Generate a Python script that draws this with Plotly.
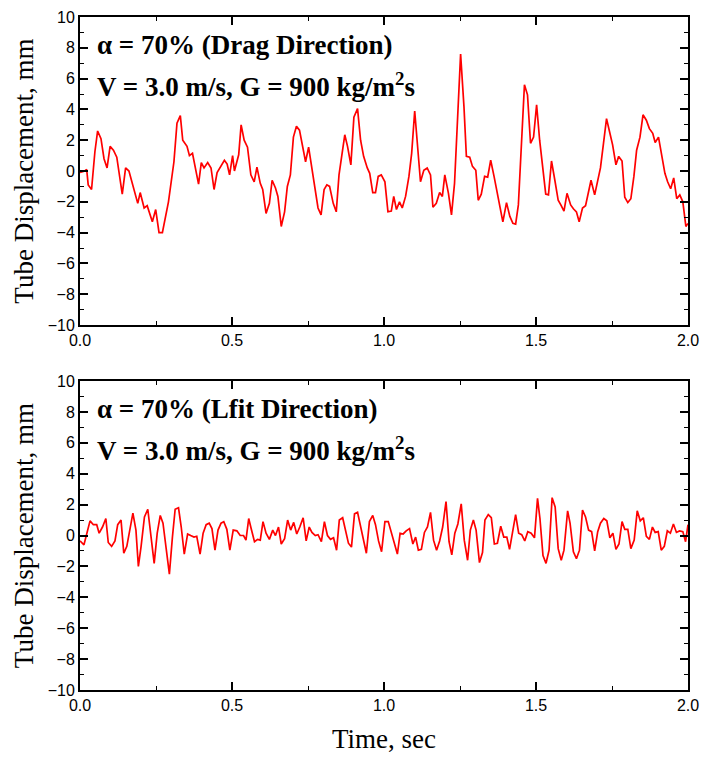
import plotly.graph_objects as go

# Drag direction (top panel), time in sec, displacement in mm
drag_time = [
    0.000, 0.016, 0.022, 0.027, 0.038, 0.049, 0.058, 0.069, 0.079, 0.089,
    0.099, 0.110, 0.121, 0.139, 0.150, 0.161, 0.190, 0.198, 0.211, 0.221,
    0.238, 0.249, 0.260, 0.271, 0.291, 0.309, 0.319, 0.330, 0.338, 0.352,
    0.360, 0.370, 0.390, 0.399, 0.408, 0.420, 0.431, 0.441, 0.451, 0.464,
    0.475, 0.484, 0.492, 0.502, 0.508, 0.522, 0.530, 0.540, 0.551, 0.562,
    0.573, 0.582, 0.593, 0.601, 0.612, 0.623, 0.632, 0.643, 0.651, 0.662,
    0.673, 0.682, 0.692, 0.702, 0.712, 0.722, 0.732, 0.742, 0.752, 0.763,
    0.774, 0.783, 0.793, 0.803, 0.812, 0.821, 0.833, 0.843, 0.852, 0.862,
    0.871, 0.880, 0.891, 0.901, 0.913, 0.923, 0.933, 0.945, 0.953, 0.963,
    0.972, 0.981, 0.991, 1.003, 1.013, 1.024, 1.032, 1.041, 1.051, 1.060,
    1.071, 1.082, 1.091, 1.101, 1.111, 1.120, 1.131, 1.142, 1.153, 1.161,
    1.172, 1.183, 1.192, 1.200, 1.212, 1.222, 1.232, 1.242, 1.252, 1.263,
    1.271, 1.282, 1.291, 1.302, 1.310, 1.320, 1.331, 1.341, 1.351, 1.362,
    1.373, 1.382, 1.391, 1.403, 1.414, 1.424, 1.433, 1.442, 1.452, 1.462,
    1.472, 1.482, 1.492, 1.502, 1.512, 1.523, 1.532, 1.541, 1.551, 1.562,
    1.573, 1.583, 1.592, 1.602, 1.614, 1.623, 1.633, 1.642, 1.653, 1.663,
    1.673, 1.681, 1.693, 1.703, 1.712, 1.722, 1.732, 1.742, 1.752, 1.763,
    1.772, 1.783, 1.792, 1.802, 1.812, 1.822, 1.831, 1.842, 1.852, 1.863,
    1.873, 1.884, 1.892, 1.903, 1.913, 1.924, 1.933, 1.943, 1.953, 1.963,
    1.973, 1.983, 1.993, 2.000,
]
drag_disp = [
    -0.1, 0.0, 0.1, -0.9, -1.2, 1.25, 2.6, 2.1, 0.8, 0.2,
    1.6, 1.35, 0.9, -1.5, 0.2, 0.0, -2.1, -1.4, -2.4, -2.25,
    -3.3, -2.5, -4.0, -4.0, -2.0, 0.6, 3.1, 3.6, 2.0, 1.6,
    1.0, 1.15, -0.85, 0.55, 0.2, 0.55, 0.2, -1.2, -0.1, 0.3,
    0.7, 0.45, -0.25, 1.0, 0.0, 1.05, 3.0, 2.0, 1.55, -0.25,
    -0.7, 0.25, -0.8, -1.2, -2.75, -2.1, -0.6, -1.1, -1.65, -3.6,
    -2.65, -1.0, -0.25, 2.2, 2.9, 2.65, 1.5, 0.6, 1.55, 0.2,
    -1.45, -2.4, -2.85, -1.2, -0.9, -1.0, -2.1, -2.65, -0.25, 1.15,
    2.35, 1.6, 0.4, 3.5, 4.05, 2.0, 0.95, 0.2, -0.15, -1.4,
    -1.4, -0.35, -0.25, -0.7, -2.65, -2.6, -1.65, -2.5, -2.0, -2.4,
    -1.65, -0.35, 1.15, 3.9, 1.15, -0.7, 0.05, 0.2, -0.25, -2.35,
    -2.1, -1.4, -1.65, -0.25, -1.45, -2.85, -0.8, 3.5, 7.6, 4.2,
    0.95, 0.9, 0.3, 0.05, -1.9, -1.5, -0.35, -0.4, 0.7, -0.35,
    -1.55, -2.4, -3.3, -2.05, -2.95, -3.4, -3.45, -2.2, 1.5, 5.6,
    4.95, 1.8, 2.2, 4.3, 2.0, -0.15, -1.5, -1.55, 0.65, -0.6,
    -1.9, -2.25, -2.6, -1.45, -2.2, -2.45, -2.65, -3.3, -2.4, -2.25,
    -1.2, -0.6, -1.55, -0.7, 0.2, 1.8, 3.4, 2.55, 1.7, 0.4,
    0.95, 0.65, -1.7, -2.05, -1.8, -0.35, 1.35, 2.2, 3.65, 3.3,
    2.75, 2.45, 1.85, 2.2, 0.95, -0.15, -0.7, -1.15, -0.45, -1.8,
    -1.55, -2.0, -3.6, -3.4,
]

# Lift direction (bottom panel)
lift_time = [
    0.000, 0.013, 0.033, 0.044, 0.055, 0.063, 0.074, 0.085, 0.093, 0.104,
    0.115, 0.124, 0.135, 0.144, 0.154, 0.174, 0.184, 0.192, 0.201, 0.212,
    0.223, 0.234, 0.244, 0.254, 0.264, 0.273, 0.283, 0.294, 0.304, 0.313,
    0.324, 0.333, 0.343, 0.354, 0.364, 0.375, 0.384, 0.395, 0.405, 0.415,
    0.425, 0.434, 0.444, 0.454, 0.464, 0.473, 0.483, 0.493, 0.504, 0.516,
    0.527, 0.538, 0.546, 0.555, 0.563, 0.574, 0.584, 0.593, 0.602, 0.612,
    0.623, 0.634, 0.643, 0.653, 0.662, 0.673, 0.683, 0.693, 0.703, 0.713,
    0.723, 0.734, 0.744, 0.754, 0.763, 0.774, 0.783, 0.794, 0.804, 0.814,
    0.824, 0.834, 0.844, 0.853, 0.864, 0.873, 0.883, 0.893, 0.903, 0.913,
    0.923, 0.932, 0.942, 0.952, 0.963, 0.972, 0.982, 0.992, 1.003, 1.014,
    1.024, 1.032, 1.044, 1.053, 1.063, 1.073, 1.084, 1.095, 1.104, 1.113,
    1.123, 1.133, 1.143, 1.153, 1.163, 1.173, 1.183, 1.193, 1.204, 1.214,
    1.223, 1.233, 1.243, 1.254, 1.264, 1.275, 1.284, 1.294, 1.303, 1.314,
    1.324, 1.332, 1.343, 1.353, 1.363, 1.373, 1.384, 1.394, 1.404, 1.413,
    1.423, 1.433, 1.443, 1.453, 1.463, 1.473, 1.484, 1.495, 1.505, 1.513,
    1.523, 1.533, 1.543, 1.553, 1.563, 1.573, 1.583, 1.592, 1.604, 1.612,
    1.623, 1.633, 1.643, 1.653, 1.663, 1.673, 1.683, 1.693, 1.703, 1.712,
    1.723, 1.733, 1.743, 1.753, 1.763, 1.773, 1.783, 1.792, 1.802, 1.812,
    1.823, 1.833, 1.843, 1.853, 1.863, 1.873, 1.883, 1.892, 1.902, 1.912,
    1.922, 1.932, 1.942, 1.952, 1.962, 1.972, 1.983, 1.992, 2.000,
]
lift_disp = [
    -0.35, -0.6, 0.95, 0.7, 0.7, 0.15, 0.55, 1.1, -0.45, -0.7,
    -0.35, 0.7, 1.0, -1.15, -0.7, 1.45, 0.35, -2.0, -0.7, 1.2,
    1.7, -0.2, -1.8, 0.15, 1.3, 0.8, -0.85, -2.5, -0.1, 1.7,
    1.8, 0.55, -1.2, 0.1, 0.0, -0.1, -0.05, -1.2, 0.15, 0.7,
    0.8, 0.45, -0.95, 0.35, 0.8, 0.9, 0.4, -0.95, 0.35, 0.3,
    0.0, 0.0, -0.3, 1.1, 0.45, -0.4, -0.25, -0.3, 0.9, 0.15,
    -0.25, 0.35, 0.0, 0.55, -0.55, -0.2, 1.0, 0.35, 0.85, 0.1,
    0.55, 1.15, -0.35, 0.55, 0.2, 0.0, 0.05, -0.4, 0.9, 0.0,
    -0.25, -0.15, -0.95, 1.0, 1.15, 0.3, -0.5, -0.75, 1.4, 1.5,
    0.55, -0.35, -1.15, 0.9, 1.3, 0.7, -0.35, -1.05, 0.9, 0.9,
    0.15, -0.4, -1.2, 0.15, 0.1, 0.3, 0.45, -0.55, -0.1, -0.95,
    -0.9, 0.2, 0.55, 1.5, -0.3, -0.95, -0.35, 0.55, 2.2, -0.4,
    -1.25, 0.15, 0.75, 2.05, -0.3, -1.6, 0.35, 1.0, 0.35, -1.75,
    -1.1, 1.0, 1.35, 1.15, -0.55, -0.5, 0.6, -0.1, -0.1, -0.9,
    0.15, 1.35, 0.15, 0.05, -0.35, 0.25, 0.15, -0.15, 2.4, 1.1,
    -1.3, -1.8, -0.95, 2.45, 1.85, -0.85, -1.6, -0.95, 1.6, 0.8,
    -1.05, -1.5, -0.95, 1.65, 1.2, 0.35, 0.25, -1.0, 0.25, 0.8,
    1.1, 0.95, -0.15, 0.15, -0.9, -0.55, 0.9, 0.4, 0.4, -0.85,
    -0.3, 1.6, 0.95, 1.15, -0.05, -0.25, 0.55, 0.2, 0.25, -0.95,
    -0.7, 0.3, 0.15, 0.75, 0.2, 0.3, 0.25, -0.4, 0.7,
]

x_ticks = [0.0, 0.5, 1.0, 1.5, 2.0]
x_tick_text = ["0.0", "0.5", "1.0", "1.5", "2.0"]
y_ticks = [-10, -8, -6, -4, -2, 0, 2, 4, 6, 8, 10]

TICK_FONT = dict(family="Liberation Sans, Arial", size=16, color="black")
TITLE_FONT = dict(family="Liberation Serif, Times New Roman", size=27, color="black")
NOTE_FONT = dict(family="Liberation Serif, Times New Roman", size=27, color="black")

fig = go.Figure()
fig.add_trace(go.Scatter(x=drag_time, y=drag_disp, mode="lines",
                         line=dict(color="#ff0000", width=1.7),
                         xaxis="x", yaxis="y", showlegend=False))
fig.add_trace(go.Scatter(x=lift_time, y=lift_disp, mode="lines",
                         line=dict(color="#ff0000", width=1.7),
                         xaxis="x2", yaxis="y2", showlegend=False))

xcommon = dict(
    range=[0, 2], tickvals=x_ticks, ticktext=x_tick_text,
    ticks="inside", ticklen=8, tickwidth=1.5, tickcolor="black",
    minor=dict(dtick=0.25, tick0=0, ticks="inside", ticklen=4, tickwidth=1.2, tickcolor="black"),
    showline=True, linecolor="black", linewidth=2, mirror="ticks",
    showgrid=False, zeroline=False, tickfont=TICK_FONT, automargin=False,
    ticklabeloverflow="allow",
)
ycommon = dict(
    range=[-10, 10], tickvals=y_ticks,
    ticks="inside", ticklen=8, tickwidth=1.5, tickcolor="black",
    minor=dict(dtick=1, tick0=0, ticks="inside", ticklen=4, tickwidth=1.2, tickcolor="black"),
    showline=True, linecolor="black", linewidth=2, mirror="ticks",
    showgrid=False, zeroline=False, tickfont=TICK_FONT, automargin=False,
    title=dict(text="Tube Displacement, mm", font=TITLE_FONT, standoff=6),
)

fig.update_layout(
    width=702, height=760,
    margin=dict(l=80, r=14, t=17, b=70),
    paper_bgcolor="white", plot_bgcolor="white",
    xaxis=dict(xcommon, domain=[0, 1], anchor="y"),
    yaxis=dict(ycommon, domain=[0.5423, 1], anchor="x"),
    xaxis2=dict(xcommon, domain=[0, 1], anchor="y2",
                title=dict(text="Time, sec", font=TITLE_FONT, standoff=16)),
    yaxis2=dict(ycommon, domain=[0, 0.4591], anchor="x2"),
)

notes = [
    ("x", "y", 8.2, "<b>α = 70% (Drag Direction)</b>"),
    ("x", "y", 5.6, "<b>V = 3.0 m/s, G = 900 kg/m<sup>2</sup>s</b>"),
    ("x2", "y2", 8.2, "<b>α = 70% (Lfit Direction)</b>"),
    ("x2", "y2", 5.6, "<b>V = 3.0 m/s, G = 900 kg/m<sup>2</sup>s</b>"),
]
for xr, yr, yv, txt in notes:
    fig.add_annotation(x=0.05, y=yv, xref=xr, yref=yr, text=txt,
                       showarrow=False, xanchor="left", yanchor="middle",
                       font=NOTE_FONT)

# drop the default page margin so the figure sits at the window origin
fig.write_html(
    "out.html",
    config={"displayModeBar": False},
    post_script="document.body.style.margin='0';document.body.style.overflow='hidden';",
)
